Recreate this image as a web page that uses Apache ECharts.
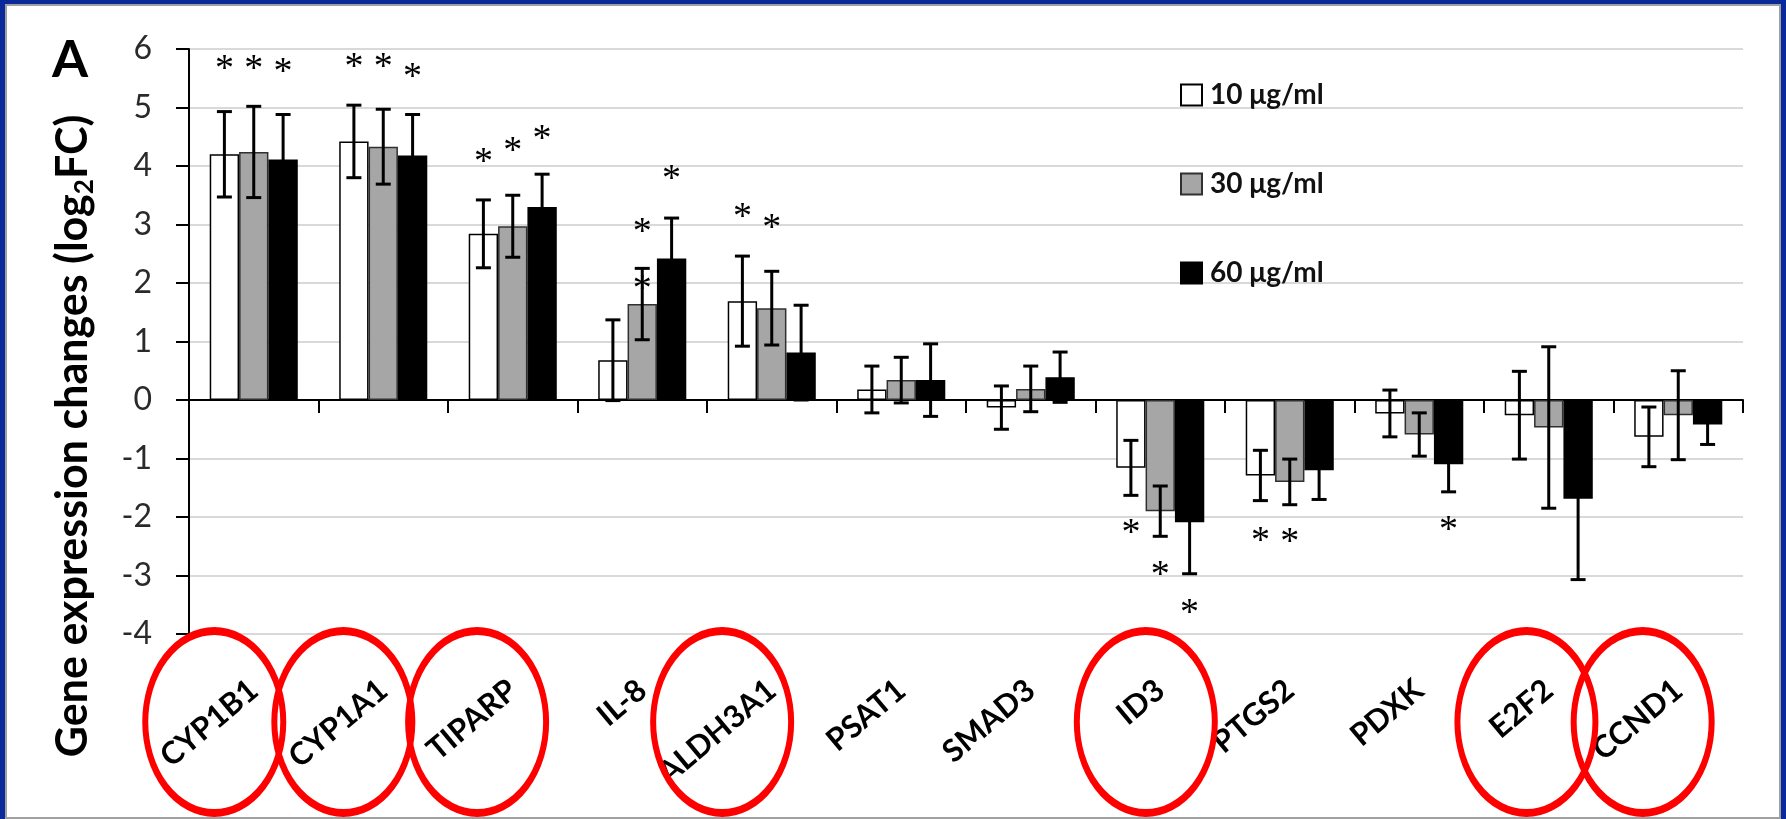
<!DOCTYPE html>
<html>
<head>
<meta charset="utf-8">
<script src="https://cdn.jsdelivr.net/npm/echarts@6/dist/echarts.min.js"></script>
<style>
    html, body { margin: 0; padding: 0; background: #fff; }
    #chart { position: absolute; left: 0; top: 0; width: 1786px; height: 819px; }
    #frame {
        position: absolute; left: 0; top: 0; width: 1786px; height: 819px;
        box-sizing: border-box; pointer-events: none;
        border-top: 4px solid #0a2a9c; border-left: 5px solid #0a2a9c; border-right: 5px solid #0a2a9c;
        box-shadow: inset 0 0 0 2px #a0a0a0;
    }
</style>
</head>
<body>
<div id="chart"></div>
<div id="frame"></div>
<script>
    // genes on the x axis
    let genes = ['CYP1B1', 'CYP1A1', 'TIPARP', 'IL-8', 'ALDH3A1', 'PSAT1', 'SMAD3', 'ID3', 'PTGS2', 'PDXK', 'E2F2', 'CCND1'];
    let doses = ['10 \u03bcg/ml', '30 \u03bcg/ml', '60 \u03bcg/ml'];

    // log2 fold change, mean and error bar half length
    let mean10 = [4.20, 4.42, 2.84, 0.68, 1.69, 0.18, -0.13, -1.16, -1.29, -0.23, -0.26, -0.63];
    let err10 = [0.73, 0.62, 0.58, 0.69, 0.77, 0.40, 0.37, 0.47, 0.43, 0.40, 0.75, 0.51];
    let mean30 = [4.24, 4.33, 2.97, 1.64, 1.57, 0.34, 0.19, -1.90, -1.40, -0.59, -0.47, -0.26];
    let err30 = [0.78, 0.64, 0.53, 0.61, 0.63, 0.39, 0.39, 0.43, 0.39, 0.37, 1.38, 0.76];
    let mean60 = [4.11, 4.18, 3.30, 2.42, 0.81, 0.34, 0.39, -2.09, -1.20, -1.10, -1.69, -0.42];
    let err60 = [0.77, 0.70, 0.56, 0.69, 0.81, 0.62, 0.43, 0.88, 0.50, 0.47, 1.38, 0.34];

    // where the significance asterisks sit (axis value), per gene
    let stars10 = [[5.74], [5.77], [4.15], [], [3.21], [], [], [-2.18], [-2.33], [], [], []];
    let stars30 = [[5.74], [5.77], [4.34], [2.95, 1.98], [3.02], [], [], [-2.90], [-2.34], [], [], []];
    let stars60 = [[5.69], [5.60], [4.55], [3.86], [], [], [], [-3.55], [], [-2.14], [], []];

    // genes circled in red
    let circled = ['CYP1B1', 'CYP1A1', 'TIPARP', 'ALDH3A1', 'ID3', 'E2F2', 'CCND1'];

    let yTicks = [-4, -3, -2, -1, 0, 1, 2, 3, 4, 5, 6];

    let gapRatio = 0.32;
    let labelAngle = 40;
    let labelFont = 'bold 31px Lato';

    function barOffset(api, index) {
        let band = api.size([1, 0])[0];
        let barWidth = band * (1 - gapRatio) / 3;
        return (index - 1) * barWidth;
    }

    function errorSeries(means, errs, index) {
        return {
            type: 'custom',
            z: 4,
            silent: true,
            encode: {x: 0, y: 1},
            data: means.map(function (m, i) {
                return [i, m, errs[i]];
            }),
            renderItem: function (params, api) {
                let cat = api.value(0);
                let m = api.value(1), e = api.value(2);
                let hi = api.coord([cat, m + e]);
                let lo = api.coord([cat, m - e]);
                let x = hi[0] + barOffset(api, index);
                let cap = 7.5;
                let st = {stroke: '#000', lineWidth: 3};
                return {
                    type: 'group',
                    children: [
                        {type: 'line', shape: {x1: x, y1: hi[1], x2: x, y2: lo[1]}, style: st},
                        {type: 'line', shape: {x1: x - cap, y1: hi[1], x2: x + cap, y2: hi[1]}, style: st},
                        {type: 'line', shape: {x1: x - cap, y1: lo[1], x2: x + cap, y2: lo[1]}, style: st}
                    ]
                };
            }
        };
    }

    function starSeries(stars, index) {
        let data = [];
        stars.forEach(function (list, i) {
            list.forEach(function (v) {
                data.push([i, v]);
            });
        });
        return {
            type: 'custom',
            z: 5,
            silent: true,
            encode: {x: 0, y: 1},
            data: data,
            renderItem: function (params, api) {
                let p = api.coord([api.value(0), api.value(1)]);
                return {
                    type: 'text',
                    x: p[0] + barOffset(api, index),
                    y: p[1] + 6,
                    style: {
                        text: '*',
                        font: '38px "Liberation Serif"',
                        fill: '#000',
                        align: 'center',
                        verticalAlign: 'middle'
                    }
                };
            }
        };
    }

    function barSeries(name, means, color, border) {
        return {
            type: 'bar',
            name: name,
            data: means,
            barGap: '0%',
            barCategoryGap: (gapRatio * 100) + '%',
            itemStyle: {color: color, borderColor: border, borderWidth: 1.5},
            emphasis: {disabled: true}
        };
    }

    let chart = echarts.init(document.getElementById('chart'), null, {renderer: 'canvas'});

    let option = {
        backgroundColor: '#fff',
        animation: false,
        textStyle: {fontFamily: 'Lato'},
        grid: {left: 189, right: 43, top: 49, bottom: 185, outerBoundsMode: 'none'},
        legend: {
            data: doses,
            orient: 'vertical',
            left: 1180,
            top: 80,
            padding: 0,
            itemGap: 59,
            itemWidth: 21,
            itemHeight: 21,
            icon: 'rect',
            selectedMode: false,
            textStyle: {fontSize: 28, fontWeight: 'bold', color: '#111', lineHeight: 30, padding: [0, 0, 0, 3]}
        },
        xAxis: [
            {
                // zero line with the group ticks
                type: 'category',
                data: genes,
                axisLine: {onZero: true, lineStyle: {color: '#000', width: 2}},
                axisTick: {show: true, length: 13, alignWithLabel: false, lineStyle: {color: '#000', width: 2}},
                axisLabel: {show: false},
                splitLine: {show: false}
            },
            {
                // gene names under the plot
                type: 'category',
                data: genes,
                position: 'bottom',
                axisLine: {show: false, onZero: false},
                axisTick: {show: false},
                axisLabel: {
                    interval: 0,
                    rotate: labelAngle,
                    margin: 52,
                    color: '#000',
                    fontSize: 31,
                    fontWeight: 'bold'
                },
                splitLine: {show: false}
            }
        ],
        yAxis: {
            type: 'value',
            min: yTicks[0],
            max: yTicks[yTicks.length - 1],
            interval: 1,
            axisLine: {show: true, lineStyle: {color: '#000', width: 2}},
            axisTick: {show: true, length: 13, lineStyle: {color: '#000', width: 2}},
            axisLabel: {fontSize: 32, color: '#2a2a2a', margin: 37},
            splitLine: {lineStyle: {color: '#d9d9d9', width: 2}}
        },
        series: [
            barSeries(doses[0], mean10, '#ffffff', '#000'),
            barSeries(doses[1], mean30, '#a6a6a6', '#303030'),
            barSeries(doses[2], mean60, '#000000', '#000'),
            errorSeries(mean10, err10, 0),
            errorSeries(mean30, err30, 1),
            errorSeries(mean60, err60, 2),
            starSeries(stars10, 0),
            starSeries(stars30, 1),
            starSeries(stars60, 2)
        ]
    };
    chart.setOption(option);

    // panel letter, axis title and red circles round the label of some genes
    let measure = document.createElement('canvas').getContext('2d');
    measure.font = labelFont;
    let bottomY = chart.convertToPixel({yAxisIndex: 0}, yTicks[0]);
    let cosA = Math.cos(labelAngle * Math.PI / 180);
    let graphics = [
        {
            type: 'text', left: 52, top: 34,
            style: {text: 'A', font: 'bold 52px Lato', fill: '#000'}
        },
        {
            type: 'text', x: 73, y: 436, rotation: Math.PI / 2,
            style: {
                text: '{a|Gene expression changes (log}{s|2}{a|FC)}',
                align: 'center',
                verticalAlign: 'middle',
                rich: {
                    a: {font: 'bold 43px Lato', fill: '#000', lineHeight: 50, verticalAlign: 'middle'},
                    s: {font: 'bold 26px Lato', fill: '#000', lineHeight: 22, verticalAlign: 'bottom'}
                }
            }
        }
    ];
    circled.forEach(function (g) {
        let cx = chart.convertToPixel({xAxisIndex: 0}, g);
        let w = measure.measureText(g).width;
        graphics.push({
            type: 'circle',
            x: cx - w / 2 * cosA + 5,
            y: bottomY + 88,
            scaleY: 91 / 69,
            shape: {cx: 0, cy: 0, r: 69},
            style: {fill: 'none', stroke: '#ff0000', lineWidth: 6, strokeNoScale: true},
            z: 10
        });
    });
    chart.setOption({graphic: graphics});
</script>
</body>
</html>
